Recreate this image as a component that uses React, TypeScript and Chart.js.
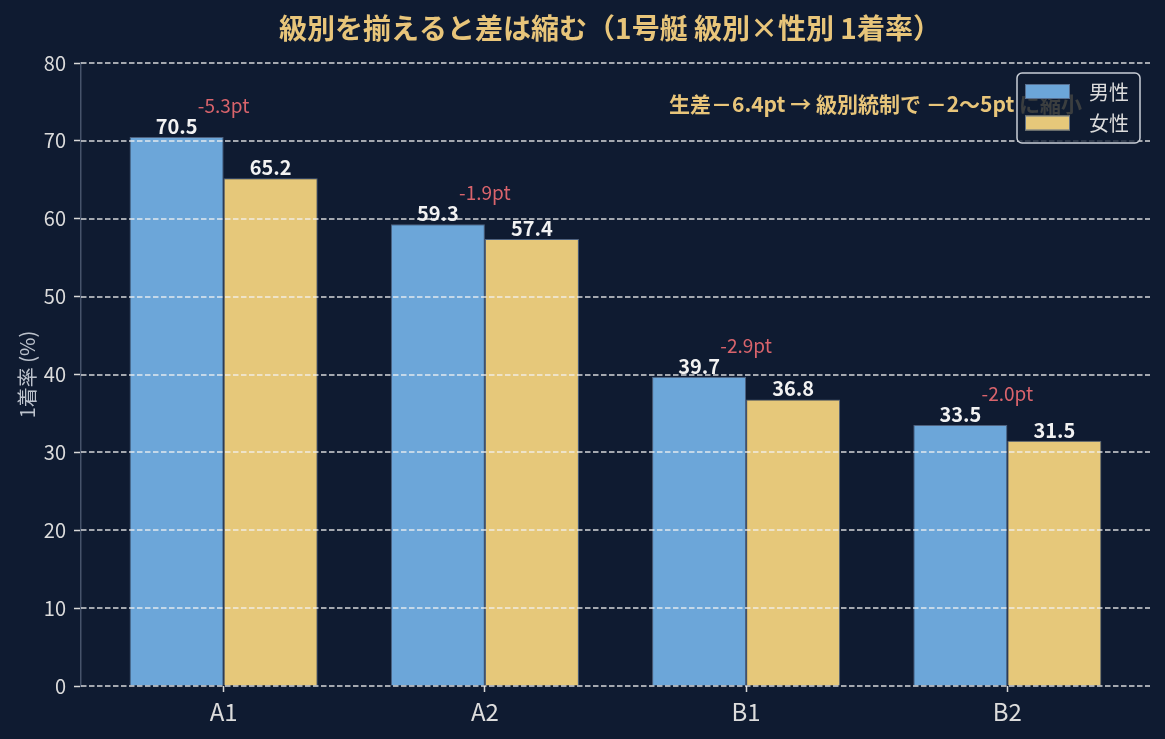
import React, { useEffect, useRef } from "react";
import { Chart, registerables } from "chart.js";

Chart.register(...registerables);

const CATEGORIES = ["A1", "A2", "B1", "B2"];
const MALE = [70.5, 59.3, 39.7, 33.5];
const FEMALE = [65.2, 57.4, 36.8, 31.5];
const SERIES_NAMES = ["男性", "女性"];
const TITLE = "級別を揃えると差は縮む（1号艇 級別×性別 1着率）";
const NOTE = "生差－6.4pt → 級別統制で －2〜5pt に縮小";
const Y_TITLE = "1着率 (%)";
const Y_MIN = 0;
const Y_MAX = 80;
const Y_STEP = 10;

const BG = "#0f1b31";
const BLUE = "#6ca6d9";
const GOLD = "#e6c87a";
const TITLE_GOLD = "#e8c57a";
const RED = "#d9646c";
const TEXT = "#dcdcdc";
const EDGE = "rgba(85,105,135,0.9)";
const FONT = "'Noto Sans CJK JP', 'Noto Sans', sans-serif";

const overlay = {
  id: "overlay",
  beforeDraw(chart: any) {
    const { ctx, width, height } = chart;
    ctx.save();
    ctx.fillStyle = BG;
    ctx.fillRect(0, 0, width, height);
    ctx.restore();
  },
  afterDatasetsDraw(chart: any) {
    const { ctx, chartArea } = chart;
    const y = chart.scales.y;
    ctx.save();
    ctx.strokeStyle = "rgba(240,240,240,0.88)";
    ctx.lineWidth = 1.5;
    ctx.setLineDash([5.5, 2.5]);
    for (const t of y.ticks) {
      const py = Math.round(y.getPixelForValue(t.value));
      ctx.beginPath();
      ctx.moveTo(chartArea.left, py);
      ctx.lineTo(chartArea.right, py);
      ctx.stroke();
    }
    ctx.setLineDash([]);
    ctx.textAlign = "center";
    ctx.textBaseline = "alphabetic";
    ctx.font = `bold 20px ${FONT}`;
    ctx.fillStyle = "#f2f2f2";
    chart.data.datasets.forEach((ds: any, di: number) => {
      const meta = chart.getDatasetMeta(di);
      meta.data.forEach((bar: any, i: number) => {
        const v = ds.data[i].y;
        ctx.fillText(v.toFixed(1), bar.x, bar.y - 3);
      });
    });
    ctx.font = `19px ${FONT}`;
    ctx.fillStyle = RED;
    ctx.textBaseline = "middle";
    const x = chart.scales.x;
    CATEGORIES.forEach((_, i) => {
      const gap = FEMALE[i] - MALE[i];
      const top = Math.max(MALE[i], FEMALE[i]) + 4;
      ctx.fillText(`${gap.toFixed(1)}pt`, x.getPixelForValue(i), y.getPixelForValue(top));
    });
    ctx.restore();
  },
  afterDraw(chart: any) {
    const { ctx } = chart;
    ctx.save();
    ctx.font = `bold 28px ${FONT}`;
    ctx.fillStyle = TITLE_GOLD;
    ctx.textAlign = "center";
    ctx.textBaseline = "middle";
    ctx.fillText(TITLE, 610, 28);
    ctx.font = `bold 21px ${FONT}`;
    ctx.textAlign = "right";
    ctx.fillText(NOTE, 1082, 104);
    const lx = 1017, ly = 73, lw = 123, lh = 70;
    ctx.beginPath();
    ctx.roundRect(lx, ly, lw, lh, 5);
    ctx.fillStyle = "rgba(15,27,49,0.8)";
    ctx.fill();
    ctx.strokeStyle = "#c9ced6";
    ctx.lineWidth = 1.5;
    ctx.stroke();
    const colors = [BLUE, GOLD];
    SERIES_NAMES.forEach((name, i) => {
      const sy = 84 + i * 31.5;
      ctx.fillStyle = colors[i];
      ctx.fillRect(1025, sy, 45, 15);
      ctx.strokeStyle = EDGE;
      ctx.lineWidth = 1;
      ctx.strokeRect(1025.5, sy + 0.5, 44, 14);
      ctx.fillStyle = TEXT;
      ctx.textAlign = "left";
      ctx.textBaseline = "middle";
      ctx.font = `20px ${FONT}`;
      ctx.fillText(name, 1089, sy + 8);
    });
    ctx.restore();
  },
};

export default function App() {
  const ref = useRef<HTMLCanvasElement | null>(null);
  useEffect(() => {
    document.body.style.margin = "0";
    const chart = new Chart(ref.current!, {
      type: "bar",
      data: {
        datasets: [
          {
            label: SERIES_NAMES[0],
            data: MALE.map((v, i) => ({ x: i, y: v })),
            backgroundColor: BLUE,
            borderColor: EDGE,
            borderWidth: 1,
            categoryPercentage: 0.72,
            barPercentage: 1,
          },
          {
            label: SERIES_NAMES[1],
            data: FEMALE.map((v, i) => ({ x: i, y: v })),
            backgroundColor: GOLD,
            borderColor: EDGE,
            borderWidth: 1,
            categoryPercentage: 0.72,
            barPercentage: 1,
          },
        ],
      },
      options: {
        animation: false,
        responsive: true,
        maintainAspectRatio: false,
        layout: { padding: { top: 63, right: 15, left: 0, bottom: 0 } },
        plugins: {
          legend: { display: false },
          title: { display: false },
          tooltip: { enabled: false },
        },
        scales: {
          x: {
            type: "linear",
            offset: false,
            min: -0.546,
            max: CATEGORIES.length - 1 + 0.546,
            afterBuildTicks: (scale: any) => {
              scale.ticks = CATEGORIES.map((_, i) => ({ value: i }));
            },
            afterFit: (scale: any) => {
              scale.height = 53;
            },
            ticks: {
              callback: (v: any) => CATEGORIES[v] ?? "",
              color: TEXT,
              font: { family: FONT, size: 24 },
              padding: 5,
              autoSkip: false,
              maxRotation: 0,
            },
            grid: {
              offset: false,
              drawOnChartArea: false,
              drawTicks: true,
              tickLength: 6,
              tickColor: "#d8d8d8",
              tickWidth: 1.5,
            },
            border: { display: false },
          },
          y: {
            min: Y_MIN,
            max: Y_MAX,
            ticks: {
              stepSize: Y_STEP,
              color: TEXT,
              font: { family: FONT, size: 20 },
              padding: 8,
            },
            afterFit: (scale: any) => {
              scale.width = 81;
            },
            grid: {
              drawOnChartArea: false,
              drawTicks: true,
              tickLength: 7,
              tickColor: "#d8d8d8",
              tickWidth: 1.5,
            },
            border: { display: true, color: "#46536a", width: 1.5 },
            title: {
              display: true,
              text: Y_TITLE,
              color: "#bcc2cc",
              font: { family: FONT, size: 20 },
              padding: { top: 15, bottom: 0 },
            },
          },
        },
      },
      plugins: [overlay],
    });
    return () => chart.destroy();
  }, []);
  return (
    <div style={{ width: 1165, height: 739, position: "relative", background: BG }}>
      <canvas ref={ref} />
    </div>
  );
}
